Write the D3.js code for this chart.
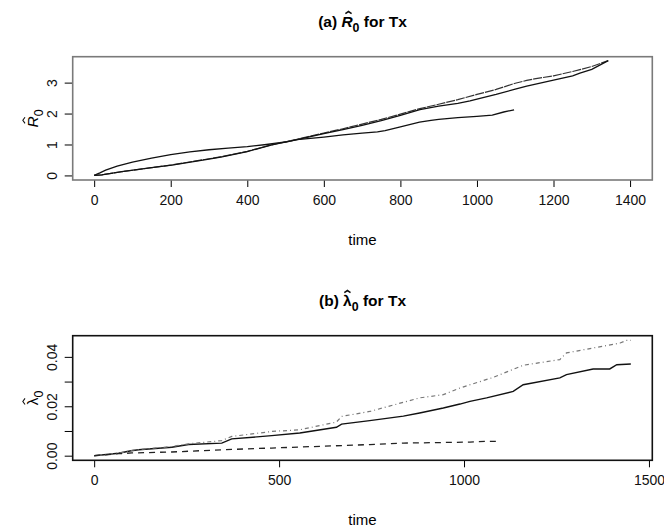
<!DOCTYPE html>
<html>
  <head>
    <meta charset="UTF-8" />
    <script src="https://cdnjs.cloudflare.com/ajax/libs/d3/7.8.5/d3.min.js"></script>
    <style>
      body { margin: 0; background: #fff; }
      text { font-family: "Liberation Sans", Arial, sans-serif; }
    </style>
  </head>
  <body>
    <svg id="chart" width="664" height="529"></svg>
    <script>
      // (a) R0 estimates
      const timeA1 = [0, 15, 30, 60, 100, 150, 200, 250, 300, 350, 400, 450, 500, 530, 600, 650, 700, 740, 760, 800, 850, 880, 900, 950, 1000, 1040, 1070, 1097];
      const r0A1 = [0, 0.08, 0.17, 0.3, 0.43, 0.56, 0.67, 0.76, 0.83, 0.88, 0.93, 1.0, 1.08, 1.16, 1.24, 1.31, 1.37, 1.41, 1.45, 1.57, 1.72, 1.78, 1.81, 1.87, 1.91, 1.95, 2.05, 2.12];
      const timeA2 = [0, 20, 72, 150, 203, 300, 334, 400, 464, 530, 600, 650, 700, 750, 800, 851, 900, 950, 1000, 1050, 1100, 1130, 1150, 1200, 1250, 1269, 1300, 1343];
      const r0A2 = [0, 0.02, 0.12, 0.25, 0.34, 0.54, 0.61, 0.78, 0.99, 1.17, 1.37, 1.51, 1.66, 1.81, 1.98, 2.16, 2.3, 2.45, 2.62, 2.78, 2.98, 3.07, 3.12, 3.22, 3.36, 3.42, 3.52, 3.71];
      const timeA3 = [0, 20, 72, 150, 203, 300, 334, 400, 464, 530, 600, 650, 700, 750, 800, 851, 900, 950, 982, 1000, 1050, 1100, 1130, 1200, 1250, 1269, 1300, 1343];
      const r0A3 = [0, 0.02, 0.12, 0.25, 0.33, 0.53, 0.6, 0.77, 0.99, 1.16, 1.35, 1.48, 1.62, 1.77, 1.94, 2.13, 2.24, 2.33, 2.41, 2.47, 2.62, 2.79, 2.89, 3.08, 3.22, 3.31, 3.43, 3.71];

      // (b) baseline hazard estimates
      const timeB1 = [0, 66, 100, 120, 210, 255, 345, 372, 480, 556, 655, 669, 745, 836, 880, 944, 989, 1016, 1061, 1133, 1160, 1259, 1277, 1349, 1394, 1413, 1451];
      const lamB1 = [0, 0.001, 0.002, 0.0024, 0.0034, 0.0045, 0.0051, 0.0068, 0.0081, 0.0092, 0.0115, 0.0128, 0.0142, 0.016, 0.0173, 0.0193, 0.0209, 0.022, 0.0234, 0.026, 0.0287, 0.0315, 0.0328, 0.0351, 0.0351, 0.0368, 0.0371];
      const timeB2 = [0, 66, 100, 120, 210, 255, 345, 372, 480, 556, 655, 669, 745, 880, 944, 989, 1016, 1079, 1142, 1160, 1259, 1277, 1349, 1422, 1440, 1451];
      const lamB2 = [0, 0.001, 0.0021, 0.0025, 0.0037, 0.0048, 0.0061, 0.0078, 0.0098, 0.0105, 0.0136, 0.0159, 0.0179, 0.0234, 0.0247, 0.0274, 0.0287, 0.0317, 0.0355, 0.0366, 0.0389, 0.0416, 0.0436, 0.0456, 0.0467, 0.0467];
      const timeB3 = [0, 66, 102, 210, 345, 480, 745, 836, 1016, 1060, 1097];
      const lamB3 = [0, 0.0008, 0.0011, 0.0015, 0.0024, 0.0031, 0.0045, 0.0051, 0.0055, 0.0058, 0.0058];

      const xTicksA = [0, 200, 400, 600, 800, 1000, 1200, 1400];
      const yTicksA = [0, 1, 2, 3];
      const xTicksB = [0, 500, 1000, 1500];
      const yTicksB = [0, 0.01, 0.02, 0.03, 0.04];
      const yLabelsB = ["0.00", "", "0.02", "", "0.04"];

      const svg = d3.select("#chart");

      // R style axis range: data limits padded by 4%
      const rExt = (lo, hi) => [lo - 0.04 * (hi - lo), hi + 0.04 * (hi - lo)];
      const zip = (t, v) => t.map((d, i) => ({ t: d, v: v[i] }));

      // symbol with subscript 0, e.g. R_0
      function subText(parent, prefix, sym, suffix, size, bold, italic) {
        const t = parent.append("text")
          .attr("text-anchor", "middle")
          .style("font-size", size + "px")
          .style("font-weight", bold ? "bold" : "normal");
        t.append("tspan").text(prefix);
        t.append("tspan").style("font-style", italic ? "italic" : "normal").text(sym);
        t.append("tspan").attr("dy", size * 0.33).style("font-size", (size * 0.8) + "px").text("0");
        t.append("tspan").attr("dy", -size * 0.33).text(suffix);
        return t;
      }
      // hat drawn over the symbol character as a small chevron
      function addHat(parent, t, idx, size, shift, bold) {
        const box = t.node().getExtentOfChar(idx);
        const base = box.y + 0.905 * size;
        const cx = box.x + box.width / 2 + shift;
        const w = size * 0.2, top = base - size * 0.98, h = size * 0.14;
        parent.append("path")
          .attr("d", `M${cx - w},${top + h}L${cx},${top}L${cx + w},${top + h}`)
          .attr("fill", "none")
          .attr("stroke", "#111")
          .attr("stroke-width", bold ? 1.5 : 1.1);
      }

      function panel(opt) {
        const g = svg.append("g");
        const x = d3.scaleLinear().domain(rExt(...opt.xlim)).range([72.7, 652.3]);
        const y = d3.scaleLinear().domain(rExt(...opt.ylim)).range([opt.bottom, opt.top]);

        // title
        const tg = g.append("g").attr("transform", `translate(362.5,${opt.top - 30})`);
        const title = subText(tg, opt.titleA, opt.sym, " for Tx", 15.5, true, opt.italic);
        addHat(tg, title, opt.titleA.length, 15.5, opt.hatShift, true);

        // x axis
        const xa = g.append("g")
          .attr("transform", `translate(0,${opt.bottom})`)
          .call(d3.axisBottom(x).tickValues(opt.xTicks).tickSize(7).tickPadding(8).tickFormat(d3.format("d")));
        xa.select(".domain").remove();
        xa.selectAll("text").style("font-size", "14px").attr("fill", "#111");

        // y axis, labels parallel to the axis
        const ya = g.append("g")
          .attr("transform", "translate(72.7,0)")
          .call(d3.axisLeft(y).tickValues(opt.yTicks).tickSize(8).tickFormat((d, i) => opt.yLabels[i]));
        ya.select(".domain").remove();
        ya.selectAll(".tick text")
          .style("font-size", "14px").attr("fill", "#111")
          .attr("text-anchor", "middle")
          .attr("x", 0).attr("y", 0).attr("dy", null)
          .attr("transform", "translate(-16,0) rotate(-90)");

        // axis labels
        g.append("text")
          .attr("x", 362.5).attr("y", opt.bottom + 65)
          .attr("text-anchor", "middle")
          .style("font-size", "15px").text("time");
        const lg = g.append("g")
          .attr("transform", `translate(38,${(opt.top + opt.bottom) / 2}) rotate(-90)`);
        const yl = subText(lg, "", opt.sym, "", 15.5, false, opt.italic);
        addHat(lg, yl, 0, 15.5, opt.hatShift, false);

        // lines
        const line = d3.line().x(d => x(d.t)).y(d => y(d.v));
        opt.series.forEach(s => {
          g.append("path")
            .attr("d", line(s.data))
            .attr("fill", "none")
            .attr("stroke", s.color)
            .attr("stroke-width", s.width)
            .attr("stroke-dasharray", s.dash);
        });

        // box
        g.append("rect")
          .attr("x", 72.7).attr("y", opt.top)
          .attr("width", 652.3 - 72.7).attr("height", opt.bottom - opt.top)
          .attr("fill", "none").attr("stroke", opt.boxColor).attr("stroke-width", 1.6);
      }

      panel({
        top: 56.7, bottom: 180,
        xlim: [0, 1402], ylim: [0, 3.69],
        xTicks: xTicksA, yTicks: yTicksA, yLabels: yTicksA.map(String),
        titleA: "(a) ", sym: "R", italic: true, hatShift: 1.5,
        boxColor: "#7a7a7a",
        series: [
          { data: zip(timeA1, r0A1), color: "#111", width: 1.3, dash: null },
          { data: zip(timeA2, r0A2), color: "#333", width: 1.2, dash: "9,1" },
          { data: zip(timeA3, r0A3), color: "#111", width: 1.3, dash: null }
        ]
      });

      panel({
        top: 335.7, bottom: 460.3,
        xlim: [0, 1451], ylim: [0, 0.0467],
        xTicks: xTicksB, yTicks: yTicksB, yLabels: yLabelsB,
        titleA: "(b) ", sym: "\u03bb", italic: false, hatShift: 0,
        boxColor: "#111",
        series: [
          { data: zip(timeB1, lamB1), color: "#111", width: 1.4, dash: null },
          { data: zip(timeB2, lamB2), color: "#777", width: 1.2, dash: "1,3,4,3" },
          { data: zip(timeB3, lamB3), color: "#222", width: 1.3, dash: "6,5" }
        ]
      });
    </script>
  </body>
</html>
